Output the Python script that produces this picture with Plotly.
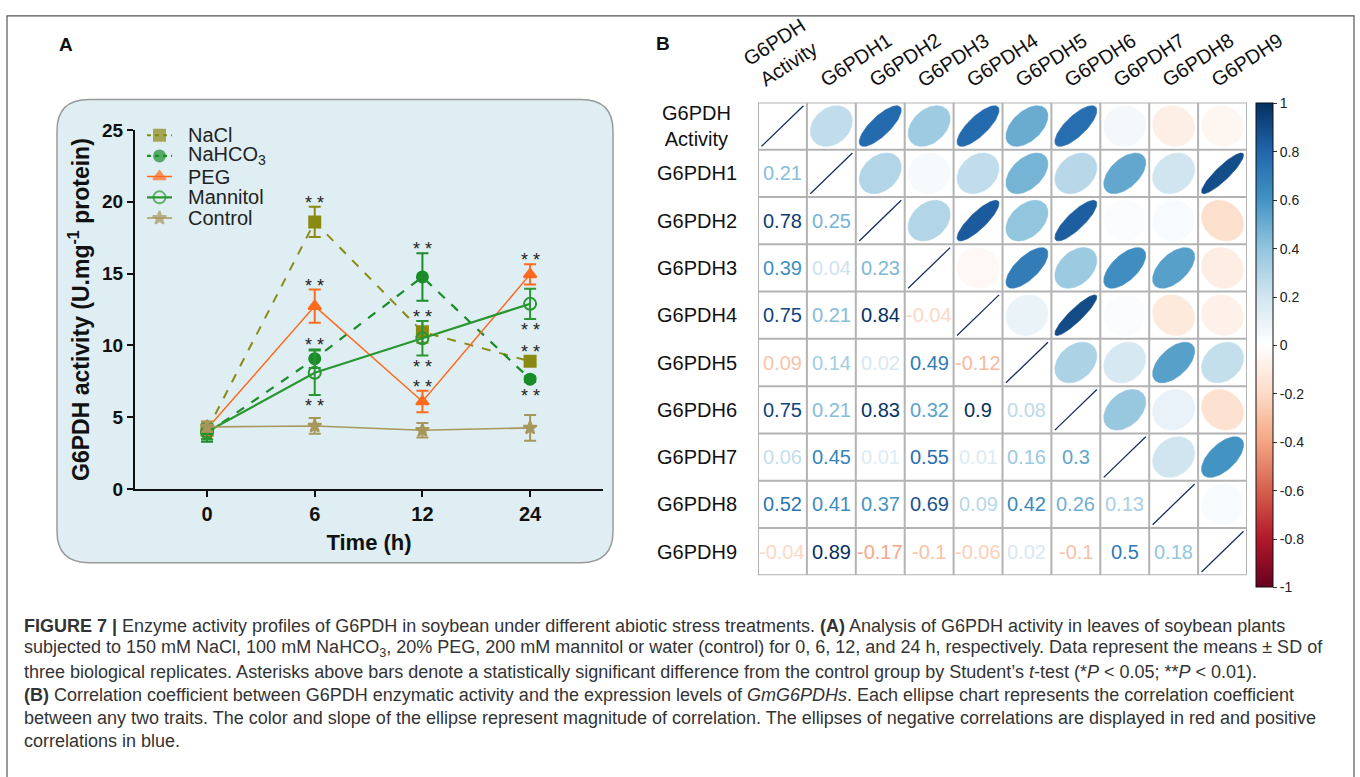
import numpy as np
import plotly.graph_objects as go

# ---------------- Panel A data ----------------
times = ["0", "6", "12", "24"]
series_names = ["NaCl", "NaHCO<sub>3</sub>", "PEG", "Mannitol", "Control"]
nacl_mean = [4.1, 18.6, 10.95, 8.9]
nacl_sd = [0.6, 1.05, 0.75, 0.3]
nahco3_mean = [3.9, 9.08, 14.77, 7.66]
nahco3_sd = [0.6, 0.65, 1.65, 0.2]
peg_mean = [4.2, 12.74, 6.1, 14.95]
peg_sd = [0.5, 1.15, 0.75, 0.7]
mannitol_mean = [4.0, 8.1, 10.5, 12.9]
mannitol_sd = [0.55, 1.55, 1.2, 1.05]
control_mean = [4.34, 4.4, 4.1, 4.27]
control_sd = [0.35, 0.55, 0.5, 0.9]
# significance marks: (series index, time index, side)
sig_marks = [(0, 1, "above"), (2, 1, "above"), (1, 1, "above"), (3, 1, "below"),
             (1, 2, "above"), (0, 2, "above"), (3, 2, "below"), (2, 2, "above"),
             (2, 3, "above"), (3, 3, "below"), (0, 3, "above"), (1, 3, "below")]

# ---------------- Panel B data ----------------
var_labels = ["G6PDH<br>Activity", "G6PDH1", "G6PDH2", "G6PDH3", "G6PDH4",
              "G6PDH5", "G6PDH6", "G6PDH7", "G6PDH8", "G6PDH9"]
# lower triangle: printed coefficients (row i, columns 0..i-1)
lower_r = [
    [],
    [0.21],
    [0.78, 0.25],
    [0.39, 0.04, 0.23],
    [0.75, 0.21, 0.84, -0.04],
    [-0.09, 0.14, 0.02, 0.49, -0.12],
    [0.75, 0.21, 0.83, 0.32, 0.9, 0.08],
    [0.06, 0.45, 0.01, 0.55, 0.01, 0.16, 0.3],
    [0.52, 0.41, 0.37, 0.69, 0.09, 0.42, 0.26, 0.13],
    [-0.04, 0.89, -0.17, -0.1, -0.06, 0.02, -0.1, 0.5, 0.18],
]
lower_labels = [
    [],
    ["0.21"],
    ["0.78", "0.25"],
    ["0.39", "0.04", "0.23"],
    ["0.75", "0.21", "0.84", "-0.04"],
    ["0.09", "0.14", "0.02", "0.49", "-0.12"],
    ["0.75", "0.21", "0.83", "0.32", "0.9", "0.08"],
    ["0.06", "0.45", "0.01", "0.55", "0.01", "0.16", "0.3"],
    ["0.52", "0.41", "0.37", "0.69", "0.09", "0.42", "0.26", "0.13"],
    ["-0.04", "0.89", "-0.17", "-0.1", "-0.06", "0.02", "-0.1", "0.5", "0.18"],
]
# upper triangle: ellipse coefficients (row i, columns i+1..9), read from shapes/colours
upper_r = [
    [0.25, 0.78, 0.36, 0.78, 0.5, 0.76, 0.05, -0.09, -0.05],
    [0.3, 0.04, 0.25, 0.47, 0.28, 0.52, 0.2, 0.89],
    [0.3, 0.84, 0.4, 0.83, 0.02, 0.03, -0.18],
    [-0.04, 0.7, 0.37, 0.62, 0.55, -0.1],
    [0.09, 0.9, 0.02, -0.12, -0.08],
    [0.32, 0.18, 0.55, 0.24],
    [0.38, 0.1, -0.16],
    [0.2, 0.6],
    [0.03],
]
cbar_ticks = [1, 0.8, 0.6, 0.4, 0.2, 0, -0.2, -0.4, -0.6, -0.8, -1]

caption_lines = [
    "<b>FIGURE 7 |</b> Enzyme activity profiles of G6PDH in soybean under different abiotic stress treatments. <b>(A)</b> Analysis of G6PDH activity in leaves of soybean plants",
    "subjected to 150 mM NaCl, 100 mM NaHCO<sub>3</sub>, 20% PEG, 200 mM mannitol or water (control) for 0, 6, 12, and 24 h, respectively. Data represent the means ± SD of",
    "three biological replicates. Asterisks above bars denote a statistically significant difference from the control group by Student’s <i>t</i>-test (*<i>P</i> &lt; 0.05; **<i>P</i> &lt; 0.01).",
    "<b>(B)</b> Correlation coefficient between G6PDH enzymatic activity and the expression levels of <i>GmG6PDHs</i>. Each ellipse chart represents the correlation coefficient",
    "between any two traits. The color and slope of the ellipse represent magnitude of correlation. The ellipses of negative correlations are displayed in red and positive",
    "correlations in blue.",
]

# ---------------- helpers ----------------
W, H = 1360, 777
FONT = "Liberation Sans, Arial, sans-serif"


def px(x):
    return x / W


def py(y):
    return 1 - y / H


RDBU = ["#67001F", "#B2182B", "#D6604D", "#F4A582", "#FDDBC7", "#FFFFFF",
        "#D1E5F0", "#92C5DE", "#4393C3", "#2166AC", "#053061"]


def hex2rgb(h):
    h = h.lstrip("#")
    return [int(h[i:i + 2], 16) for i in (0, 2, 4)]


def rdbu(r):
    t = (max(-1.0, min(1.0, r)) + 1) / 2 * (len(RDBU) - 1)
    i = min(int(np.floor(t)), len(RDBU) - 2)
    f = t - i
    a, b = hex2rgb(RDBU[i]), hex2rgb(RDBU[i + 1])
    c = [round(a[k] + (b[k] - a[k]) * f) for k in range(3)]
    return "rgb(%d,%d,%d)" % tuple(c)


def text_color(r):
    m = min(1.0, 0.12 + abs(r) ** 0.75)
    return rdbu(m if r >= 0 else -m)


fig = go.Figure()

# ---------------- Panel A traces ----------------
means = [nacl_mean, nahco3_mean, peg_mean, mannitol_mean, control_mean]
sds = [nacl_sd, nahco3_sd, peg_sd, mannitol_sd, control_sd]
colors = ["#8a8a12", "#1a8c2a", "#ff6a1f", "#2a9632", "#a8975a"]
dashes = ["dash", "dash", "solid", "solid", "solid"]
widths = [2, 2.2, 1.5, 2.2, 1.6]
symbols = ["square", "circle", "triangle-up", "circle-open", "star"]
msizes = [11, 11, 11, 12, 10]
xpos = list(range(len(times)))

for k in range(5):
    fig.add_trace(go.Scatter(
        x=xpos, y=means[k], name=series_names[k], mode="lines+markers",
        line=dict(color=colors[k], width=widths[k], dash=dashes[k]),
        marker=dict(symbol=symbols[k], size=msizes[k], color=colors[k],
                    line=dict(color=colors[k], width=2)),
        error_y=dict(type="data", array=sds[k], visible=True, color=colors[k],
                     thickness=2, width=6),
        xaxis="x", yaxis="y", showlegend=False))

annotations = []
for (s, t, side) in sig_marks:
    ext = max(sds[s][t], 0.4)
    if side == "above":
        annotations.append(dict(x=t, y=means[s][t] + ext, xref="x", yref="y",
                                text="* *", showarrow=False, yanchor="bottom",
                                yshift=-8, font=dict(family=FONT, size=18, color="#222")))
    else:
        annotations.append(dict(x=t, y=means[s][t] - ext, xref="x", yref="y",
                                text="* *", showarrow=False, yanchor="top",
                                yshift=1, font=dict(family=FONT, size=18, color="#222")))

# manual compact legend (sample line + marker, then label)
for k in range(5):
    fig.add_trace(go.Scatter(
        x=[0, 0.5, 1], y=[k, k, k], mode="lines+markers",
        line=dict(color=colors[k], width=widths[k],
                  dash="4px,4px" if dashes[k] == "dash" else "solid"),
        marker=dict(symbol=symbols[k], size=[0, msizes[k], 0], color=colors[k],
                    line=dict(color=colors[k], width=2)),
        xaxis="x3", yaxis="y3", showlegend=False, hoverinfo="skip"))
    annotations.append(dict(x=px(186), y=k, xref="paper", yref="y3", text=series_names[k],
                            showarrow=False, xanchor="left", yanchor="middle",
                            font=dict(family=FONT, size=20, color="#222")))

# ---------------- Panel B traces ----------------
tt = np.linspace(0, 2 * np.pi, 100)
S = 0.86
n = len(var_labels)
full = [[1.0] * n for _ in range(n)]
for i in range(n):
    for jj, v in enumerate(upper_r[i] if i < len(upper_r) else []):
        full[i][i + 1 + jj] = v
for i in range(n):
    for j in range(i, n):
        r = full[i][j]
        d = np.arccos(r)
        ex = j + 0.5 + S * np.cos(tt + d / 2) / 2
        ey = i + 0.5 - S * np.cos(tt - d / 2) / 2
        if i == j:
            fig.add_trace(go.Scatter(x=ex, y=ey, mode="lines",
                                     line=dict(color="#1c3160", width=1.3),
                                     xaxis="x2", yaxis="y2", showlegend=False,
                                     hoverinfo="skip"))
        else:
            c = rdbu(r)
            fig.add_trace(go.Scatter(x=ex, y=ey, mode="lines", fill="toself",
                                     fillcolor=c, line=dict(color=c, width=0.6),
                                     xaxis="x2", yaxis="y2", showlegend=False,
                                     hoverinfo="skip"))

for i in range(n):
    for j, v in enumerate(lower_r[i]):
        annotations.append(dict(x=j + 0.5, y=i + 0.5, xref="x2", yref="y2",
                                text=lower_labels[i][j], showarrow=False,
                                font=dict(family=FONT, size=20, color=text_color(v))))

# colour bar (via an invisible marker trace)
fig.add_trace(go.Scatter(
    x=[0.5], y=[0.5], mode="markers", xaxis="x2", yaxis="y2", showlegend=False,
    hoverinfo="skip",
    marker=dict(size=1, opacity=0, color=[0], cmin=-1, cmax=1,
                colorscale=[[k / (len(RDBU) - 1), c] for k, c in enumerate(RDBU)],
                showscale=True,
                colorbar=dict(x=px(1256), xanchor="left", y=py(96), yanchor="top",
                              len=484, lenmode="pixels", thickness=17,
                              thicknessmode="pixels", outlinecolor="#111",
                              outlinewidth=1, ticks="outside", ticklen=4,
                              tickwidth=1, tickcolor="#333", xpad=0, ypad=0,
                              tickvals=cbar_ticks,
                              ticktext=[("%g" % v) for v in cbar_ticks],
                              tickfont=dict(family=FONT, size=14, color="#222")))))

# row / column labels
for i, lab in enumerate(var_labels):
    two = "<br>" in lab
    annotations.append(dict(x=px(697), y=i + 0.5, xref="paper", yref="y2", text=lab,
                            showarrow=False, xanchor="center", align="center",
                            font=dict(family=FONT, size=20, color="#111")))
    annotations.append(dict(x=i + 0.5, y=py(87 if two else 86), xref="x2", yref="paper",
                            text=lab, showarrow=False, xanchor="left", yanchor="bottom",
                            xshift=-46 if two else -18, textangle=-33, align="center",
                            font=dict(family=FONT, size=20, color="#111")))

# panel letters
annotations.append(dict(x=px(57), y=py(35), xref="paper", yref="paper", text="<b>A</b>",
                        showarrow=False, xanchor="left", yanchor="middle",
                        font=dict(family=FONT, size=19, color="#111")))
annotations.append(dict(x=px(654), y=py(34), xref="paper", yref="paper", text="<b>B</b>",
                        showarrow=False, xanchor="left", yanchor="middle",
                        font=dict(family=FONT, size=19, color="#111")))

# caption
for k, line in enumerate(caption_lines):
    annotations.append(dict(x=px(22), y=py(633 + 23.7 * k), xref="paper", yref="paper",
                            text=line, showarrow=False, xanchor="left", yanchor="middle",
                            font=dict(family=FONT, size=18, color="#333")))

# ---------------- shapes ----------------
shapes = []
# outer frame
shapes.append(dict(type="rect", xref="paper", yref="paper", x0=px(7), x1=px(1354),
                   y0=py(790), y1=py(6), line=dict(color="#555", width=1.2),
                   fillcolor="rgba(0,0,0,0)", layer="below"))
# rounded panel A background
x0, x1, y0, y1, rr = 57, 613, 92, 568, 32
path = ("M {a},{b} L {c},{b} Q {d},{b} {d},{e} L {d},{f} Q {d},{g} {c},{g} "
        "L {a},{g} Q {h},{g} {h},{f} L {h},{e} Q {h},{b} {a},{b} Z").format(
    a=px(x0 + rr), b=py(y0), c=px(x1 - rr), d=px(x1), e=py(y0 + rr),
    f=py(y1 - rr), g=py(y1), h=px(x0))
shapes.append(dict(type="path", xref="paper", yref="paper", path=path,
                   fillcolor="#dfeef2", line=dict(color="#9a9a9a", width=1.5),
                   layer="below"))
# matrix grid
for k in range(n + 1):
    shapes.append(dict(type="line", xref="x2", yref="y2", x0=k, x1=k, y0=0, y1=n,
                       line=dict(color="#b3b3b3", width=2)))
    shapes.append(dict(type="line", xref="x2", yref="y2", x0=0, x1=n, y0=k, y1=k,
                       line=dict(color="#b3b3b3", width=2)))

fig.update_layout(
    width=W, height=H, margin=dict(l=0, r=0, t=0, b=0),
    paper_bgcolor="white", plot_bgcolor="rgba(0,0,0,0)",
    font=dict(family=FONT, color="#111"),
    xaxis=dict(domain=[px(135), px(603)], anchor="y", range=[-0.669, 3.677],
               tickvals=xpos, ticktext=times, showline=True, linecolor="#111",
               linewidth=2, ticks="outside", ticklen=6, tickwidth=2, tickcolor="#111",
               showgrid=False, zeroline=False,
               tickfont=dict(family=FONT, size=20, color="#111", weight="bold"),
               title=dict(text="Time (h)", font=dict(family=FONT, size=22, color="#111",
                                                       weight="bold"), standoff=10)),
    yaxis=dict(domain=[py(492.5), py(123.3)], anchor="x", range=[0, 25],
               tickvals=[0, 5, 10, 15, 20, 25], showline=True, linecolor="#111",
               linewidth=2, ticks="outside", ticklen=6, tickwidth=2, tickcolor="#111",
               showgrid=False, zeroline=False,
               tickfont=dict(family=FONT, size=19, color="#111", weight="bold"),
               title=dict(text="G6PDH activity (U.mg<sup>-1</sup> protein)",
                          font=dict(family=FONT, size=23, color="#111", weight="bold"),
                          standoff=6)),
    xaxis2=dict(domain=[px(758), px(1247)], anchor="y2", range=[0, n], visible=False),
    yaxis2=dict(domain=[py(581), py(95)], anchor="x2", range=[n, 0], visible=False),
    xaxis3=dict(domain=[px(147), px(172)], anchor="y3", range=[0, 1], visible=False),
    yaxis3=dict(domain=[py(224.5), py(118)], anchor="x3", range=[4.5, -0.5], visible=False),
    annotations=annotations, shapes=shapes, showlegend=False,
)

fig.write_html("out.html", post_script="document.body.style.margin='0px';")
